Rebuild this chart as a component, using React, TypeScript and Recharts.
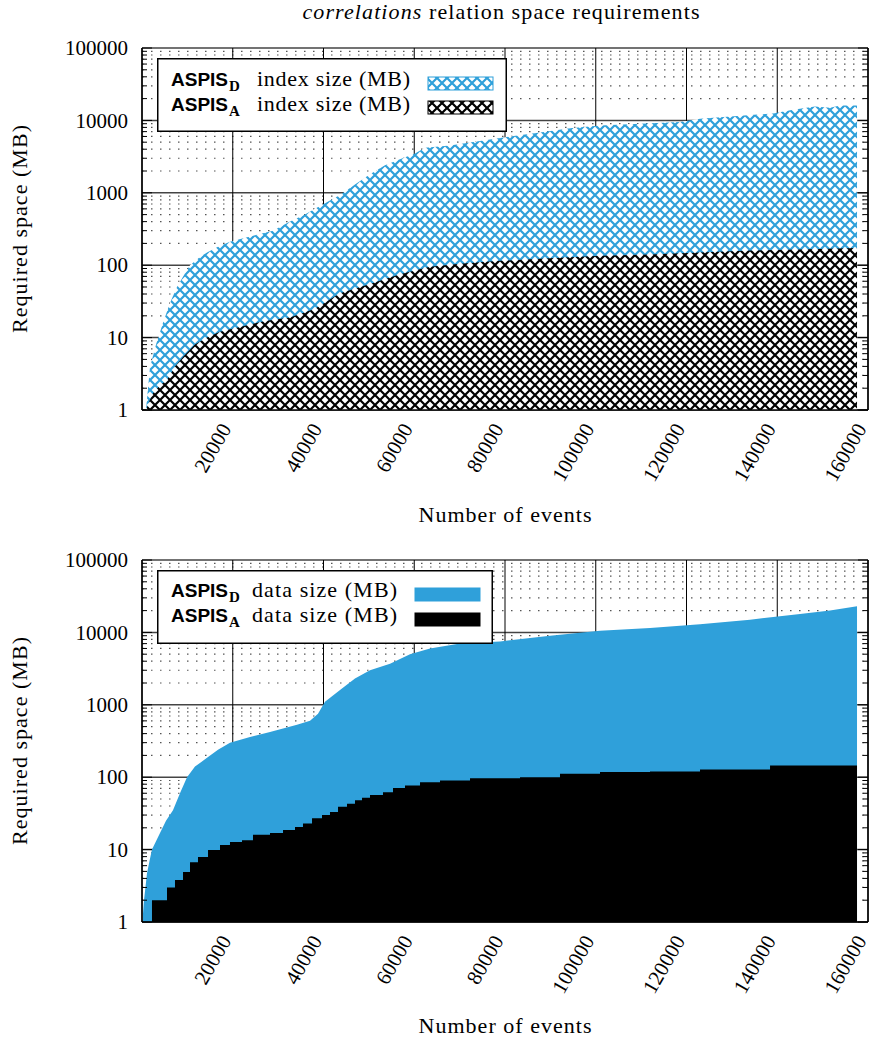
import React from 'react';
import { AreaChart, Area, XAxis, YAxis, CartesianGrid } from 'recharts';

const SERIF = 'Liberation Serif, DejaVu Serif, serif';
const SANS = 'Liberation Sans, DejaVu Sans, sans-serif';
const BLUE = '#2fa0da';

const X_TICKS = [20000, 40000, 60000, 80000, 100000, 120000, 140000, 160000];
const Y_DECADES = [1, 10, 100, 1000, 10000, 100000];
const Y_TICKS = [
  1, 2, 3, 4, 5, 6, 7, 8, 9,
  10, 20, 30, 40, 50, 60, 70, 80, 90,
  100, 200, 300, 400, 500, 600, 700, 800, 900,
  1000, 2000, 3000, 4000, 5000, 6000, 7000, 8000, 9000,
  10000, 20000, 30000, 40000, 50000, 60000, 70000, 80000, 90000,
  100000,
];

const TITLE_ITALIC = 'correlations';
const TITLE_REST = ' relation space requirements';
const X_TITLE = 'Number of events';
const Y_TITLE = 'Required space (MB)';

// ---- top panel: index sizes ----
const INDEX_D_EVENTS = [880, 1760, 3090, 4630, 6170, 7710, 9040, 10580, 12780, 14330, 16750, 19390, 23800, 28870, 32620, 35920, 38130, 40330, 43640, 46940, 50250, 53550, 56860, 60170, 62370, 67880, 74490, 81100, 87720, 94330, 100940, 109750, 118570, 122980, 131130, 139070, 143480, 148320, 151630, 153830, 157580];
const INDEX_D_MB = [1, 3.9, 8, 16, 30, 50, 69, 100, 130, 150, 180, 210, 250, 300, 400, 500, 600, 720, 930, 1300, 1800, 2400, 2900, 3500, 4200, 4500, 5200, 6000, 6800, 7800, 8500, 9000, 9500, 10500, 11500, 12500, 14000, 15500, 15000, 16000, 16000];

const INDEX_A_EVENTS = [880, 1760, 2420, 3970, 5510, 7270, 9040, 11680, 14330, 17190, 21600, 27110, 32620, 38130, 43640, 50250, 56860, 63470, 70080, 78900, 89920, 100940, 111960, 122980, 134000, 145020, 157580];
const INDEX_A_MB = [1, 1.4, 1.7, 2.2, 2.6, 4, 5.4, 8, 10, 12, 14, 17, 19, 25, 41, 55, 75, 95, 105, 115, 125, 135, 140, 150, 160, 165, 173];

// ---- bottom panel: data sizes ----
const DATA_D_EVENTS = [220, 440, 880, 1100, 1760, 2200, 3090, 3970, 5290, 6830, 8370, 9920, 11680, 14330, 16750, 19390, 23800, 28210, 34160, 37030, 38790, 40330, 43640, 46940, 50250, 54660, 59060, 63470, 70080, 78900, 89920, 100940, 111960, 122980, 134000, 145020, 151630, 157580];
const DATA_D_MB = [1.3, 2, 3.5, 4.7, 7.5, 10, 13, 17, 25, 35, 60, 100, 140, 185, 240, 300, 360, 420, 530, 600, 750, 1100, 1600, 2300, 3000, 3700, 5000, 6000, 7000, 7500, 9000, 10500, 11500, 13000, 15000, 18000, 20000, 23000];

const DATA_A_EVENTS = [2200, 5510, 7270, 9040, 10580, 12340, 14550, 17190, 19390, 22040, 24460, 28210, 31080, 33720, 35480, 37470, 39670, 41430, 43200, 45180, 46940, 48490, 50250, 53110, 55320, 57960, 61270, 65680, 72290, 83310, 92120, 100940, 111960, 122980, 138410, 157580];
const DATA_A_MB = [2, 3, 3.8, 4.9, 6.7, 7.9, 9.9, 11.6, 12.7, 13.5, 16, 17, 18.7, 20.5, 23, 27, 30, 33, 39, 43, 48, 52, 57, 62, 71, 77, 85, 90, 97, 100, 112, 118, 120, 128, 145, 145];

type Series = { key: string; events: number[]; values: number[] };

function buildTable(series: Series[]) {
  const xs = Array.from(new Set(series.flatMap((s) => s.events))).sort((a, b) => a - b);
  return xs.map((x) => {
    const row: any = { events: x };
    series.forEach((s) => {
      const i = s.events.indexOf(x);
      row[s.key] = i >= 0 ? s.values[i] : null;
    });
    return row;
  });
}

const TOP_DATA = buildTable([
  { key: 'd', events: INDEX_D_EVENTS, values: INDEX_D_MB },
  { key: 'a', events: INDEX_A_EVENTS, values: INDEX_A_MB },
]);
const BOTTOM_DATA = buildTable([
  { key: 'd', events: DATA_D_EVENTS, values: DATA_D_MB },
  { key: 'a', events: DATA_A_EVENTS, values: DATA_A_MB },
]);

const serifStyle = (size: number): React.CSSProperties => ({ fontFamily: SERIF, fontSize: size });

const LeftTick = (props: any) => {
  const { x, y, payload } = props;
  const v = payload.value;
  const major = Y_DECADES.includes(v);
  return (
    <g>
      <line x1={x} x2={x + (major ? 10 : 5)} y1={y} y2={y} stroke="#000" strokeWidth={1} />
      {major && (
        <text x={x - 14} y={y} dy="0.34em" textAnchor="end" style={serifStyle(21)} fill="#000">
          {v}
        </text>
      )}
    </g>
  );
};

const RightTick = (props: any) => {
  const { x, y, payload } = props;
  const major = Y_DECADES.includes(payload.value);
  return <line x1={x} x2={x - (major ? 10 : 5)} y1={y} y2={y} stroke="#000" strokeWidth={1} />;
};

const XTick = (props: any) => {
  const { x, y, payload } = props;
  const px = x - 7;
  const py = y + 15;
  return (
    <text x={px} y={py} dy="0.34em" textAnchor="end" transform={`rotate(-60 ${px} ${py})`} style={serifStyle(21)} fill="#000">
      {payload.value}
    </text>
  );
};

const gridH = (p: any) => {
  const major = p.index % 9 === 0;
  return (
    <line
      key={`h-${p.index}`}
      x1={p.x1}
      x2={p.x2}
      y1={p.y1}
      y2={p.y2}
      stroke={major ? '#444' : '#555'}
      strokeWidth={major ? 1.5 : 1.2}
      strokeDasharray={major ? undefined : '1.5 7.5'}
    />
  );
};

const gridV = (p: any) => (
  <line key={`v-${p.index}`} x1={p.x1} x2={p.x2} y1={p.y1} y2={p.y2} stroke="#000" strokeWidth={1} />
);

const xLabel = (dy: number) => (props: any) => {
  const vb = props.viewBox;
  return (
    <text x={vb.x + vb.width / 2} y={vb.y + dy} textAnchor="middle" style={serifStyle(22)} fill="#000" textLength={173} lengthAdjust="spacing">
      {X_TITLE}
    </text>
  );
};

const yLabel = (props: any) => {
  const vb = props.viewBox;
  const cx = 27;
  const cy = vb.y + vb.height / 2;
  return (
    <text x={cx} y={cy} textAnchor="middle" transform={`rotate(-90 ${cx} ${cy})`} style={serifStyle(22)} fill="#000" textLength={208} lengthAdjust="spacing">
      {Y_TITLE}
    </text>
  );
};

const P = 10;
const HatchDefs = ({ prefix }: { prefix: string }) => (
  <defs>
    <pattern id={`${prefix}Blue`} patternUnits="userSpaceOnUse" width={P} height={P}>
      <rect width={P} height={P} fill="#fff" />
      <path d={`M0,0L${P},${P}M${P},0L0,${P}`} stroke={BLUE} strokeWidth={2.2} />
    </pattern>
    <pattern id={`${prefix}Black`} patternUnits="userSpaceOnUse" width={P} height={P}>
      <rect width={P} height={P} fill="#fff" />
      <path d={`M0,0L${P},${P}M${P},0L0,${P}`} stroke="#000" strokeWidth={2.2} />
    </pattern>
  </defs>
);

type PanelProps = {
  data: any[];
  height: number;
  marginTop: number;
  xAxisHeight: number;
  labelDy: number;
  fillD: string;
  fillA: string;
  typeD: 'linear' | 'stepAfter';
  typeA: 'linear' | 'stepAfter';
  hatch: boolean;
};

const Panel = (p: PanelProps) => (
  <AreaChart width={871} height={p.height} data={p.data} margin={{ top: p.marginTop, right: 0, bottom: 0, left: 0 }}>
    {p.hatch && <HatchDefs prefix="plot" />}
    <CartesianGrid horizontal={gridH} vertical={gridV} />
    <Area type={p.typeD} dataKey="d" stroke="none" fill={p.fillD} fillOpacity={1} baseValue={1} connectNulls dot={false} activeDot={false} isAnimationActive={false} />
    <Area type={p.typeA} dataKey="a" stroke="none" fill={p.fillA} fillOpacity={1} baseValue={1} connectNulls dot={false} activeDot={false} isAnimationActive={false} />
    <XAxis
      dataKey="events"
      type="number"
      domain={[0, 160000]}
      allowDataOverflow
      ticks={X_TICKS}
      interval={0}
      tickSize={0}
      tickMargin={0}
      tick={<XTick />}
      height={p.xAxisHeight}
      axisLine={{ stroke: '#000', strokeWidth: 1.5 }}
      label={xLabel(p.labelDy)}
    />
    <XAxis xAxisId="top" orientation="top" dataKey="events" type="number" domain={[0, 160000]} allowDataOverflow height={0} tick={false} tickLine={false} axisLine={{ stroke: '#000', strokeWidth: 1.5 }} />
    <YAxis
      type="number"
      scale="log"
      domain={[1, 100000]}
      allowDataOverflow
      ticks={Y_TICKS}
      interval={0}
      tickSize={0}
      tickMargin={0}
      tick={<LeftTick />}
      width={142}
      axisLine={{ stroke: '#000', strokeWidth: 1.5 }}
      label={yLabel}
    />
    <YAxis
      yAxisId="r"
      orientation="right"
      type="number"
      scale="log"
      domain={[1, 100000]}
      allowDataOverflow
      ticks={Y_TICKS}
      interval={0}
      tickSize={0}
      tickMargin={0}
      tick={<RightTick />}
      width={3}
      axisLine={{ stroke: '#000', strokeWidth: 1.5 }}
    />
  </AreaChart>
);

const LegendBox = (props: {
  left: number;
  top: number;
  width: number;
  word: string;
  wordX: number;
  wordLen: number;
  swX: number;
  hatch: boolean;
  rowY: [number, number];
  swY: [number, number];
}) => {
  const { left, top, width, word, wordX, wordLen, swX, hatch, rowY, swY } = props;
  const h = 74;
  const rows = [
    { sub: 'D', fill: hatch ? 'url(#lgBlue)' : BLUE, stroke: BLUE },
    { sub: 'A', fill: hatch ? 'url(#lgBlack)' : '#000', stroke: '#000' },
  ];
  return (
    <svg width={width} height={h} style={{ position: 'absolute', left, top }}>
      {hatch && <HatchDefs prefix="lg" />}
      <rect x={0.75} y={0.75} width={width - 1.5} height={h - 1.5} fill="#fff" stroke="#000" strokeWidth={1.5} />
      {rows.map((r, i) => (
        <g key={r.sub}>
          <text x={14} y={rowY[i]} style={{ fontFamily: SANS, fontWeight: 'bold', fontSize: 19 }} fill="#000">
            ASPIS
          </text>
          <text x={72} y={rowY[i] + 5} style={{ fontFamily: SERIF, fontWeight: 'bold', fontSize: 15 }} fill="#000">
            {r.sub}
          </text>
          <text x={wordX} y={rowY[i]} style={serifStyle(22)} fill="#000" textLength={wordLen} lengthAdjust="spacing">
            {word}
          </text>
          <rect x={swX} y={swY[i]} width={65} height={13} fill={r.fill} stroke={r.stroke} strokeWidth={1} />
        </g>
      ))}
    </svg>
  );
};

export default function App() {
  return (
    <div style={{ position: 'absolute', left: 0, top: 0, width: 871, height: 1041, background: '#fff', overflow: 'hidden' }}>
      <svg width={871} height={30} style={{ position: 'absolute', left: 0, top: 0 }}>
        <text x={501} y={19} textAnchor="middle" style={serifStyle(22)} fill="#000" textLength={397} lengthAdjust="spacing">
          <tspan fontStyle="italic">{TITLE_ITALIC}</tspan>
          <tspan>{TITLE_REST}</tspan>
        </text>
      </svg>
      <div style={{ position: 'absolute', left: 0, top: 0 }}>
        <Panel data={TOP_DATA} height={540} marginTop={48} xAxisHeight={130} labelDy={112} fillD="url(#plotBlue)" fillA="url(#plotBlack)" typeD="linear" typeA="linear" hatch />
      </div>
      <div style={{ position: 'absolute', left: 0, top: 520 }}>
        <Panel data={BOTTOM_DATA} height={521} marginTop={40} xAxisHeight={119} labelDy={111} fillD={BLUE} fillA="#000" typeD="linear" typeA="stepAfter" hatch={false} />
      </div>
      <LegendBox left={157} top={58} width={350} word="index size (MB)" wordX={100} wordLen={153} swX={271} hatch rowY={[28, 53]} swY={[19, 43]} />
      <LegendBox left={157} top={570} width={336} word="data size (MB)" wordX={95} wordLen={145} swX={258} hatch={false} rowY={[27, 52]} swY={[18, 43]} />
    </div>
  );
}
